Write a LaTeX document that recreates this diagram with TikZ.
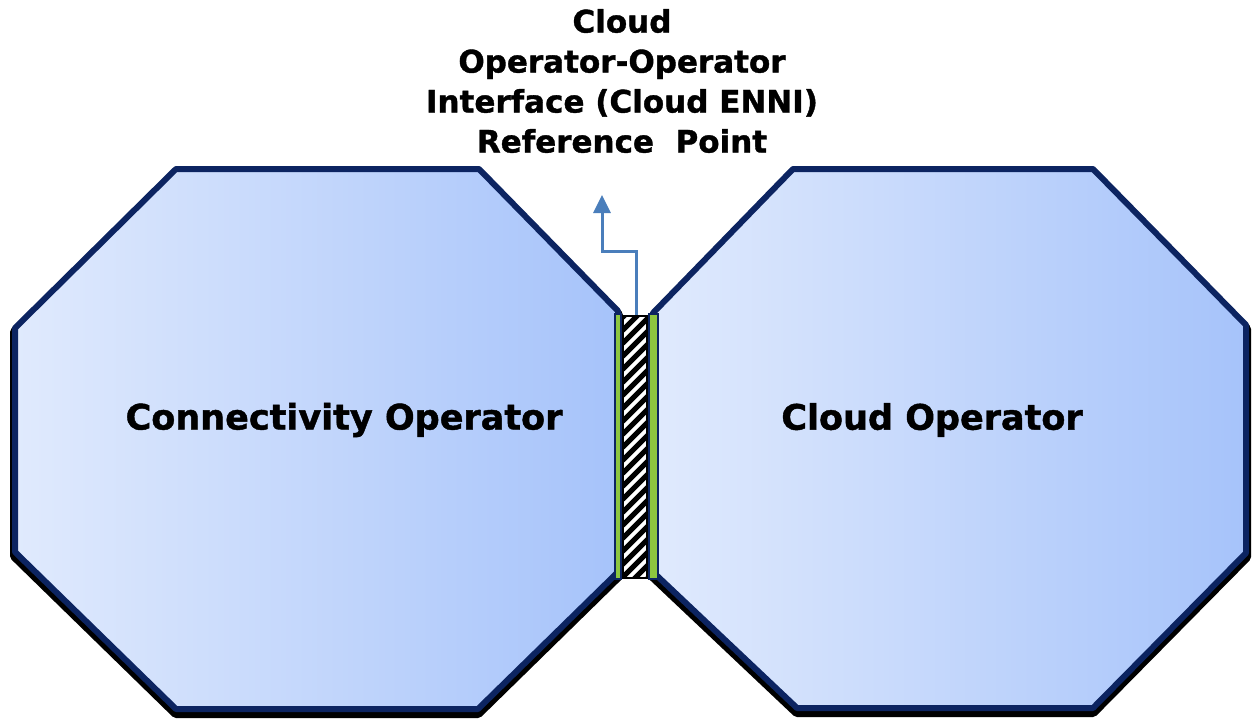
\documentclass[tikz,border=0pt]{standalone}
\usepackage{fontspec}
\setmainfont{DejaVu Sans}
\newfontfamily\heavyfont{DejaVu Sans Bold}[FakeBold=1.2]
\usetikzlibrary{arrows.meta}
\definecolor{opnavy}{HTML}{0C2461}
\definecolor{opleft}{HTML}{E0EAFD}
\definecolor{opright}{HTML}{A6C3FA}
\definecolor{ennigreen}{HTML}{8DC63F}
\definecolor{refblue}{HTML}{4A7EBB}

\begin{document}
\begin{tikzpicture}[x=1pt, y=-1pt,
  opshadow/.style={draw=black, line width=10pt, line join=round, yshift=-4pt},
  oper/.style={draw=opnavy, line width=6pt, line join=round, left color=opleft, right color=opright},
  greenstrip/.style={draw=opnavy, line width=2.5pt, fill=ennigreen},
  opname/.style={font=\fontsize{35}{40}\selectfont\heavyfont},
  refname/.style={font=\fontsize{31}{40}\selectfont\heavyfont, align=center}]
\useasboundingbox (0,0) rectangle (1252,723);
% shadows
\draw[opshadow] (176,169) -- (479,169) -- (618,311) -- (618,572) -- (478,709) -- (176,709) -- (15,552) -- (15,328) -- cycle;
\draw[opshadow] (793,169) -- (1093,169) -- (1246,325) -- (1246,553) -- (1093,708) -- (797,708) -- (653,572) -- (653,313) -- cycle;
% operators
\draw[oper] (176,169) -- (479,169) -- (618,311) -- (618,572) -- (478,709) -- (176,709) -- (15,552) -- (15,328) -- cycle;
\draw[oper] (793,169) -- (1093,169) -- (1246,325) -- (1246,553) -- (1093,708) -- (797,708) -- (653,572) -- (653,313) -- cycle;
% interface
\draw[greenstrip] (615,314) rectangle (621,579);
\draw[greenstrip] (649,314) rectangle (658,579);
\node[draw=black, line width=2pt, fill=white, inner sep=0pt,
      minimum width=24pt, minimum height=262pt,
      path picture={\foreach \k in {-3,...,22}
        \draw[line width=5pt] ([yshift=\k*13pt]path picture bounding box.south west) -- ++(30pt,30pt);}]
      (enni) at (634.5,446.5) {};
% reference point
\coordinate (tip) at (602,195);
\draw[refblue, line width=3pt, -{Triangle[width=17pt,length=18pt]}] ([xshift=2pt]enni.north) -- ++(0,-63) -| (tip);
% labels
\node[opname] (conn) at (344,420) {Connectivity Operator};
\node[opname] (cloud) at (932,420) {Cloud Operator};
\node[refname] (ref) at (622,81) {Cloud\\Operator-Operator\\Interface (Cloud ENNI)\\Reference\ \ Point};
\end{tikzpicture}
\end{document}
